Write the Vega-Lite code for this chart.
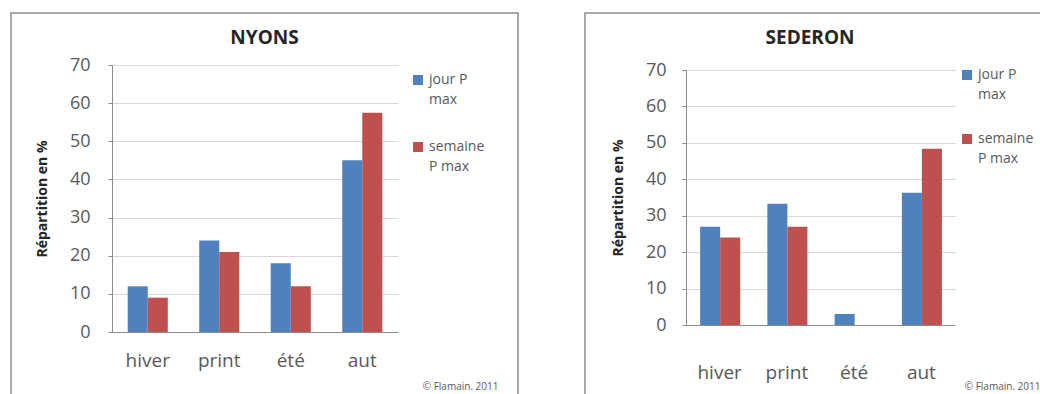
{
  "$schema": "https://vega.github.io/schema/vega-lite/v6.json",
  "padding": {"left": 10, "top": 12, "right": 0, "bottom": 0},
  "background": "white",
  "spacing": 65,
  "data": {"values": [
    {"station": "NYONS", "saison": "hiver", "serie": "jour P max", "valeur": 12},
    {"station": "NYONS", "saison": "hiver", "serie": "semaine P max", "valeur": 9},
    {"station": "NYONS", "saison": "print", "serie": "jour P max", "valeur": 24},
    {"station": "NYONS", "saison": "print", "serie": "semaine P max", "valeur": 21},
    {"station": "NYONS", "saison": "été", "serie": "jour P max", "valeur": 18},
    {"station": "NYONS", "saison": "été", "serie": "semaine P max", "valeur": 12},
    {"station": "NYONS", "saison": "aut", "serie": "jour P max", "valeur": 45},
    {"station": "NYONS", "saison": "aut", "serie": "semaine P max", "valeur": 57.5},
    {"station": "SEDERON", "saison": "hiver", "serie": "jour P max", "valeur": 27},
    {"station": "SEDERON", "saison": "hiver", "serie": "semaine P max", "valeur": 24},
    {"station": "SEDERON", "saison": "print", "serie": "jour P max", "valeur": 33.3},
    {"station": "SEDERON", "saison": "print", "serie": "semaine P max", "valeur": 27},
    {"station": "SEDERON", "saison": "été", "serie": "jour P max", "valeur": 3},
    {"station": "SEDERON", "saison": "été", "serie": "semaine P max", "valeur": 0},
    {"station": "SEDERON", "saison": "aut", "serie": "jour P max", "valeur": 36.3},
    {"station": "SEDERON", "saison": "aut", "serie": "semaine P max", "valeur": 48.4}
  ]},
  "config": {
    "font": "Open Sans",
    "view": {"stroke": "#8c8c8c", "strokeWidth": 1.5},
    "axis": {"domainColor": "#8c8c8c", "tickColor": "#8c8c8c", "gridColor": "#d9d9d9", "labelColor": "#595959"}
  },
  "resolve": {"scale": {"x": "independent", "y": "independent", "color": "independent"}, "legend": {"color": "independent"}},
  "hconcat": [
    {
      "width": 507,
      "height": 382,
      "transform": [{"filter": "datum.station == 'NYONS'"}],
      "title": {"text": "NYONS", "fontSize": 19, "fontWeight": "bold", "color": "#262626", "offset": -35, "anchor": "middle"},
      "mark": {"type": "bar"},
      "encoding": {
        "x": {
          "field": "saison", "type": "nominal", "sort": ["hiver", "print", "été", "aut"],
          "scale": {"range": [101, 387], "paddingInner": 0.44, "paddingOuter": 0.22},
          "axis": {"offset": -63, "ticks": false, "labelFontSize": 19, "labelPadding": 19, "labelAngle": 0, "grid": false,
                   "title": "© Flamain. 2011", "titleFontSize": 10, "titleFontWeight": "normal", "titleColor": "#595959",
                   "titleX": 487, "titleY": 57, "titleAlign": "right", "titleBaseline": "alphabetic"}
        },
        "xOffset": {"field": "serie", "type": "nominal", "sort": ["jour P max", "semaine P max"]},
        "y": {
          "field": "valeur", "type": "quantitative",
          "scale": {"domain": [0, 70], "range": [319, 52], "nice": false},
          "axis": {"values": [0, 10, 20, 30, 40, 50, 60, 70], "offset": -101, "tickSize": 4, "labelFontSize": 18, "labelPadding": 18,
                   "title": "Répartition en %", "titleFontSize": 14, "titleFontWeight": "bold", "titleColor": "#262626", "titlePadding": 20}
        },
        "color": {
          "field": "serie", "type": "nominal",
          "scale": {"domain": ["jour P max", "semaine P max"], "range": ["#4F81BD", "#C0504D"]},
          "legend": {"orient": "none", "legendX": 400, "legendY": 60, "title": null, "symbolType": "square", "symbolSize": 100,
                     "labelFontSize": 14, "labelColor": "#595959", "rowPadding": 33,
                     "labelExpr": "datum.label == 'jour P max' ? ['jour P', 'max'] : ['semaine', 'P max']",
                     "encode": {"labels": {"update": {"lineHeight": {"value": 20}}}}}
        }
      }
    },
    {
      "width": 470,
      "height": 382,
      "transform": [{"filter": "datum.station == 'SEDERON'"}],
      "title": {"text": "SEDERON", "fontSize": 19, "fontWeight": "bold", "color": "#262626", "offset": -35, "anchor": "middle", "dx": -10},
      "mark": {"type": "bar"},
      "encoding": {
        "x": {
          "field": "saison", "type": "nominal", "sort": ["hiver", "print", "été", "aut"],
          "scale": {"range": [101, 370], "paddingInner": 0.42, "paddingOuter": 0.21},
          "axis": {"offset": -70, "ticks": false, "labelFontSize": 19, "labelPadding": 38, "labelAngle": 0, "grid": false,
                   "title": "© Flamain. 2011", "titleFontSize": 10, "titleFontWeight": "normal", "titleColor": "#595959",
                   "titleX": 455, "titleY": 64, "titleAlign": "right", "titleBaseline": "alphabetic"}
        },
        "xOffset": {"field": "serie", "type": "nominal", "sort": ["jour P max", "semaine P max"]},
        "y": {
          "field": "valeur", "type": "quantitative",
          "scale": {"domain": [0, 70], "range": [312, 57], "nice": false},
          "axis": {"values": [0, 10, 20, 30, 40, 50, 60, 70], "offset": -101, "tickSize": 4, "labelFontSize": 18, "labelPadding": 16,
                   "title": "Répartition en %", "titleFontSize": 14, "titleFontWeight": "bold", "titleColor": "#262626", "titlePadding": 20}
        },
        "color": {
          "field": "serie", "type": "nominal",
          "scale": {"domain": ["jour P max", "semaine P max"], "range": ["#4F81BD", "#C0504D"]},
          "legend": {"orient": "none", "legendX": 375, "legendY": 55, "title": null, "symbolType": "square", "symbolSize": 100,
                     "labelFontSize": 14, "labelColor": "#595959", "rowPadding": 30,
                     "labelExpr": "datum.label == 'jour P max' ? ['jour P', 'max'] : ['semaine', 'P max']",
                     "encode": {"labels": {"update": {"lineHeight": {"value": 20}}}}}
        }
      }
    }
  ]
}
